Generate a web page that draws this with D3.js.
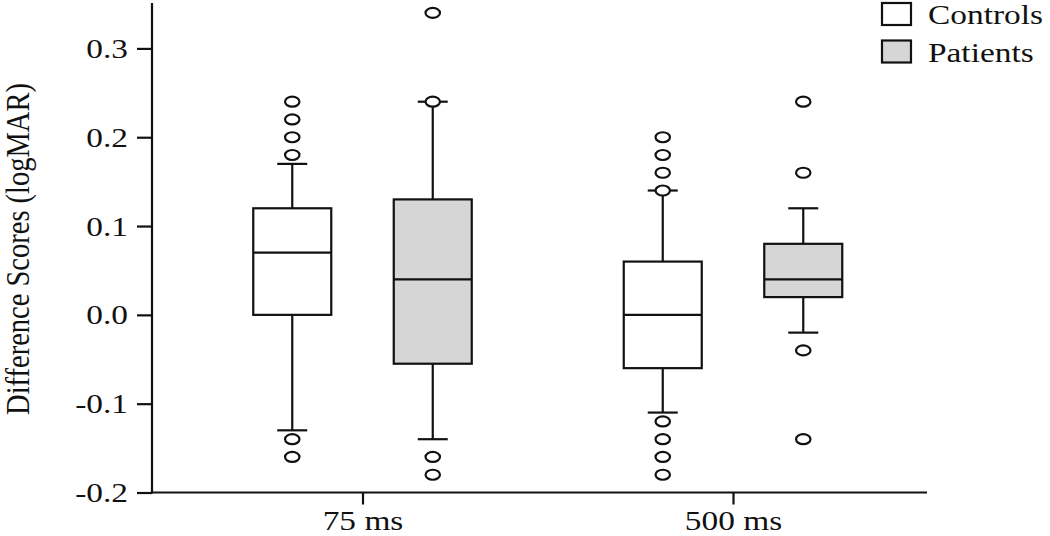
<!DOCTYPE html>
<html>
<head>
<meta charset="utf-8">
<script src="https://cdn.jsdelivr.net/npm/d3@7"></script>
<style>
  body { margin: 0; background: #fff; }
  svg { display: block; font-family: "Liberation Serif", "DejaVu Serif", serif; }
</style>
</head>
<body>
<svg id="chart" width="1050" height="536"></svg>
<script>
// categories and groups
const times = ["75 ms", "500 ms"];
const groups = ["Controls", "Patients"];
const yTicks = [-0.2, -0.1, 0.0, 0.1, 0.2, 0.3];
const yTickLabels = ["-0.2", "-0.1", "0.0", "0.1", "0.2", "0.3"];

// one entry per box: 75/Controls, 75/Patients, 500/Controls, 500/Patients
const boxTime = ["75 ms", "75 ms", "500 ms", "500 ms"];
const boxGroup = ["Controls", "Patients", "Controls", "Patients"];
const whiskerLow = [-0.13, -0.14, -0.11, -0.02];
const q1 = [0.0, -0.055, -0.06, 0.02];
const median = [0.07, 0.04, 0.0, 0.04];
const q3 = [0.12, 0.13, 0.06, 0.08];
const whiskerHigh = [0.17, 0.24, 0.14, 0.12];
const outliers = [
    [0.18, 0.20, 0.22, 0.24, -0.14, -0.16],
    [0.24, 0.34, -0.16, -0.18],
    [0.14, 0.16, 0.18, 0.20, -0.12, -0.14, -0.16, -0.18],
    [0.16, 0.24, -0.04, -0.14]
];

const fills = { "Controls": "#ffffff", "Patients": "#d6d6d6" };
const stretch = 1.26; // text in the picture is a bit wide
const ink = "#111";
const lw = 2.2;

const svg = d3.select("#chart");

const left = 152, right = 927, bottom = 492.5;

const y = d3.scaleLinear()
    .domain([-0.2, 0.35])
    .range([bottom, 4]);

const x = d3.scalePoint()
    .domain(times)
    .range([362.5, 733]);

const sub = d3.scaleBand()
    .domain(groups)
    .range([-140.5, 140.5]);

const boxWidth = 78;
const capWidth = 30;

// axes
const yAxis = svg.append("g")
    .attr("transform", `translate(${left},0)`)
    .call(d3.axisLeft(y)
        .tickValues(yTicks)
        .tickFormat((d, i) => yTickLabels[i])
        .tickSize(15)
        .tickSizeOuter(0));

yAxis.select(".domain").remove();
yAxis.selectAll(".tick line").attr("stroke", ink).attr("stroke-width", lw);
yAxis.selectAll(".tick text")
    .attr("x", -24 / stretch)
    .attr("dy", "0.34em")
    .attr("transform", `scale(${stretch},1)`)
    .attr("font-size", 26.5)
    .attr("font-family", "Liberation Serif")
    .attr("fill", ink);

svg.append("line")
    .attr("x1", left).attr("x2", left)
    .attr("y1", y.range()[1] - 1).attr("y2", bottom + 1)
    .attr("stroke", ink).attr("stroke-width", lw);

const xAxis = svg.append("g")
    .attr("transform", `translate(0,${bottom})`)
    .call(d3.axisBottom(x).tickSize(12).tickSizeOuter(0).tickPadding(0));

xAxis.select(".domain").remove();
xAxis.selectAll(".tick line").attr("stroke", ink).attr("stroke-width", lw);
xAxis.selectAll(".tick text")
    .attr("y", 38)
    .attr("dy", 0)
    .attr("transform", `scale(${stretch},1)`)
    .attr("font-size", 26.5)
    .attr("font-family", "Liberation Serif")
    .attr("fill", ink);

svg.append("line")
    .attr("x1", left - 1).attr("x2", right)
    .attr("y1", bottom).attr("y2", bottom)
    .attr("stroke", ink).attr("stroke-width", lw);

// y title
svg.append("text")
    .attr("transform", `translate(29,249) scale(1.2,1) rotate(-90)`)
    .attr("text-anchor", "middle")
    .attr("font-size", 28.5)
    .attr("fill", ink)
    .text("Difference Scores (logMAR)");

// boxes
const boxes = boxTime.map((t, i) => ({
    time: t,
    group: boxGroup[i],
    lo: whiskerLow[i],
    q1: q1[i],
    med: median[i],
    q3: q3[i],
    hi: whiskerHigh[i],
    out: outliers[i],
    cx: x(t) + sub(boxGroup[i]) + sub.bandwidth() / 2
}));

const chart = svg.append("g");

const b = chart.selectAll(".box")
    .data(boxes)
    .enter()
    .append("g")
    .attr("class", "box");

// whisker stems
b.append("line")
    .attr("x1", d => d.cx).attr("x2", d => d.cx)
    .attr("y1", d => y(d.hi)).attr("y2", d => y(d.q3))
    .attr("stroke", ink).attr("stroke-width", lw);
b.append("line")
    .attr("x1", d => d.cx).attr("x2", d => d.cx)
    .attr("y1", d => y(d.q1)).attr("y2", d => y(d.lo))
    .attr("stroke", ink).attr("stroke-width", lw);

// caps
b.append("line")
    .attr("x1", d => d.cx - capWidth / 2).attr("x2", d => d.cx + capWidth / 2)
    .attr("y1", d => y(d.hi)).attr("y2", d => y(d.hi))
    .attr("stroke", ink).attr("stroke-width", lw);
b.append("line")
    .attr("x1", d => d.cx - capWidth / 2).attr("x2", d => d.cx + capWidth / 2)
    .attr("y1", d => y(d.lo)).attr("y2", d => y(d.lo))
    .attr("stroke", ink).attr("stroke-width", lw);

// box + median
b.append("rect")
    .attr("x", d => d.cx - boxWidth / 2)
    .attr("width", boxWidth)
    .attr("y", d => y(d.q3))
    .attr("height", d => y(d.q1) - y(d.q3))
    .attr("fill", d => fills[d.group])
    .attr("stroke", ink).attr("stroke-width", lw);
b.append("line")
    .attr("x1", d => d.cx - boxWidth / 2).attr("x2", d => d.cx + boxWidth / 2)
    .attr("y1", d => y(d.med)).attr("y2", d => y(d.med))
    .attr("stroke", ink).attr("stroke-width", lw);

// outliers
b.selectAll(".outlier")
    .data(d => d.out.map(v => ({ v: v, cx: d.cx })))
    .enter()
    .append("ellipse")
    .attr("class", "outlier")
    .attr("cx", d => d.cx)
    .attr("cy", d => y(d.v))
    .attr("rx", 7.2)
    .attr("ry", 5)
    .attr("fill", "#fff")
    .attr("stroke", ink).attr("stroke-width", lw);

// legend
const legend = svg.append("g").attr("transform", "translate(882,3)");
const li = legend.selectAll(".legend-item")
    .data(groups)
    .enter()
    .append("g")
    .attr("class", "legend-item")
    .attr("transform", (d, i) => `translate(0,${i * 37.5})`);
li.append("rect")
    .attr("width", 29).attr("height", 22)
    .attr("fill", d => fills[d])
    .attr("stroke", ink).attr("stroke-width", lw);
li.append("text")
    .attr("transform", `translate(46,21) scale(${stretch},1)`)
    .attr("font-size", 26.5)
    .attr("fill", ink)
    .text(d => d);
</script>
</body>
</html>
